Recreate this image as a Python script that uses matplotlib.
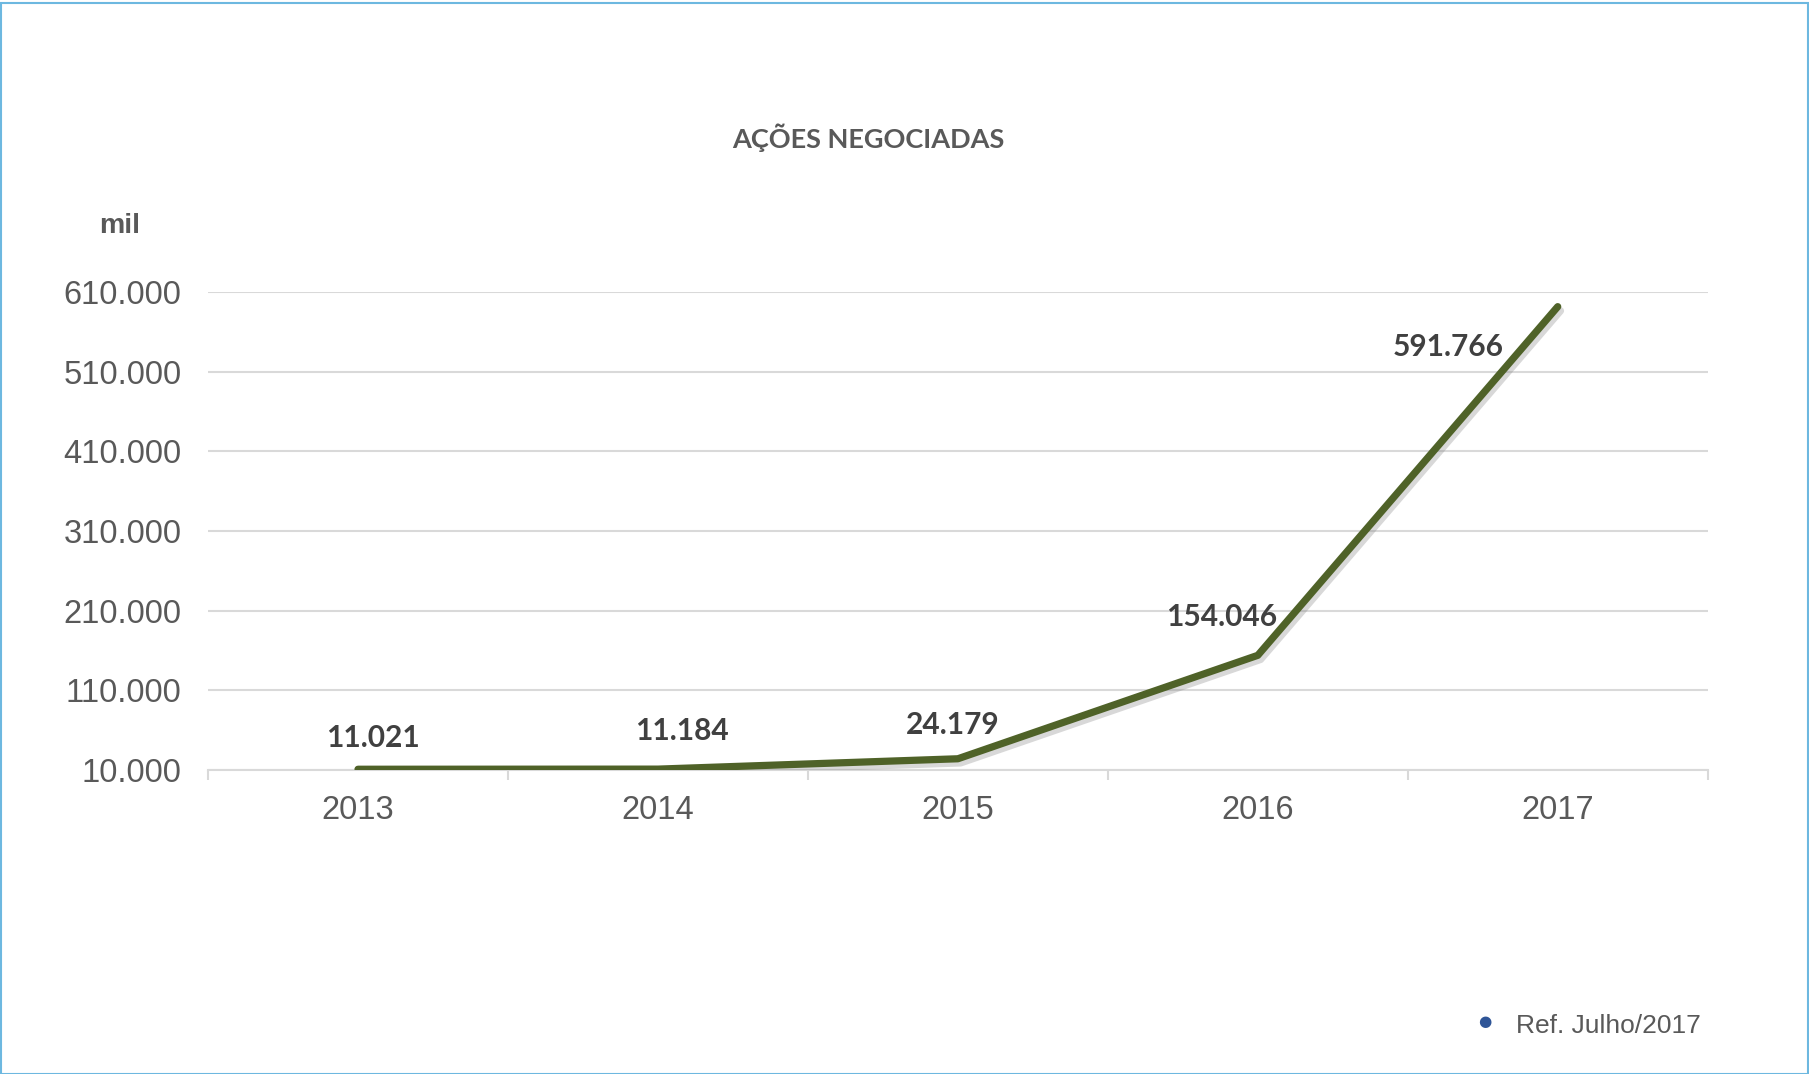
import matplotlib.pyplot as plt
import matplotlib.patheffects as pe
from matplotlib.patches import Rectangle
from matplotlib.ticker import FuncFormatter
import numpy as np

# dados (em mil)
anos = ['2013', '2014', '2015', '2016', '2017']
acoes = [11021, 11184, 24179, 154046, 591766]
rotulos = ['11.021', '11.184', '24.179', '154.046', '591.766']
y_ticks = [10000, 110000, 210000, 310000, 410000, 510000, 610000]
# deslocamento dos rotulos (pixels), como no original
desloc = [(15, 31), (24, 38), (-5, 34), (-36, 38), (-110, -40)]

cinza = '#595959'
verde = '#4F6228'

fig = plt.figure(figsize=(18.09, 10.74), dpi=100)
ax = fig.add_axes([0.115, 0.283, 0.829, 0.445])

x = np.arange(len(anos))
ax.plot(x, acoes, color=verde, lw=5.2, solid_capstyle='round', solid_joinstyle='round',
        path_effects=[pe.SimpleLineShadow(offset=(2, -3), shadow_color='#7f7f7f', alpha=0.3),
                      pe.Normal()], zorder=3)

for xi, yi, txt, d in zip(x, acoes, rotulos, desloc):
    ax.annotate(txt, (xi, yi), xytext=d, textcoords='offset pixels',
                ha='center', va='center', fontsize=21.5, fontweight='bold',
                family='Lato', color='#404040', zorder=4)

ax.set_xlim(-0.5, len(anos) - 0.5)
ax.set_ylim(y_ticks[0], y_ticks[-1])
ax.set_yticks(y_ticks)
ax.yaxis.set_major_formatter(FuncFormatter(lambda v, p: f'{int(v):,}'.replace(',', '.')))
ax.set_xticks(x)
ax.set_xticklabels(anos)
ax.set_xticks(np.arange(-0.5, len(anos)), minor=True)

ax.grid(axis='y', color='#D9D9D9', lw=1.5)
ax.set_axisbelow(True)
for s in ['top', 'right', 'left']:
    ax.spines[s].set_visible(False)
ax.spines['bottom'].set_color('#D9D9D9')
ax.spines['bottom'].set_linewidth(1.5)

ax.tick_params(axis='y', length=0, pad=19, labelsize=23.5, labelcolor=cinza)
ax.tick_params(axis='x', which='major', length=0, pad=18, labelsize=23.5, labelcolor=cinza)
ax.tick_params(axis='x', which='minor', length=7, width=1.5, color='#D9D9D9')
for lb in ax.get_xticklabels() + ax.get_yticklabels():
    lb.set_family('Liberation Sans')

fig.text(0.48, 0.872, 'AÇÕES NEGOCIADAS', ha='center', va='center',
         fontsize=19.5, fontweight='bold', family='Lato', color=cinza)
fig.text(0.066, 0.79, 'mil', ha='center', va='center', fontsize=20.5,
         fontweight='bold', family='Liberation Sans', color=cinza)

# legenda
fig.text(0.821, 0.049, '\u25CF', ha='center', va='center', fontsize=11,
         color='#2F5597', family='DejaVu Sans')
fig.text(0.838, 0.045, 'Ref. Julho/2017', ha='left', va='center', fontsize=19,
         family='Liberation Sans', color=cinza)

# moldura
fig.patches.append(Rectangle((0.0008, 0.0), 0.9984, 0.9975, transform=fig.transFigure,
                             fill=False, edgecolor='#6DB8E0', lw=1.5))

fig.savefig('out.png', dpi=100)
